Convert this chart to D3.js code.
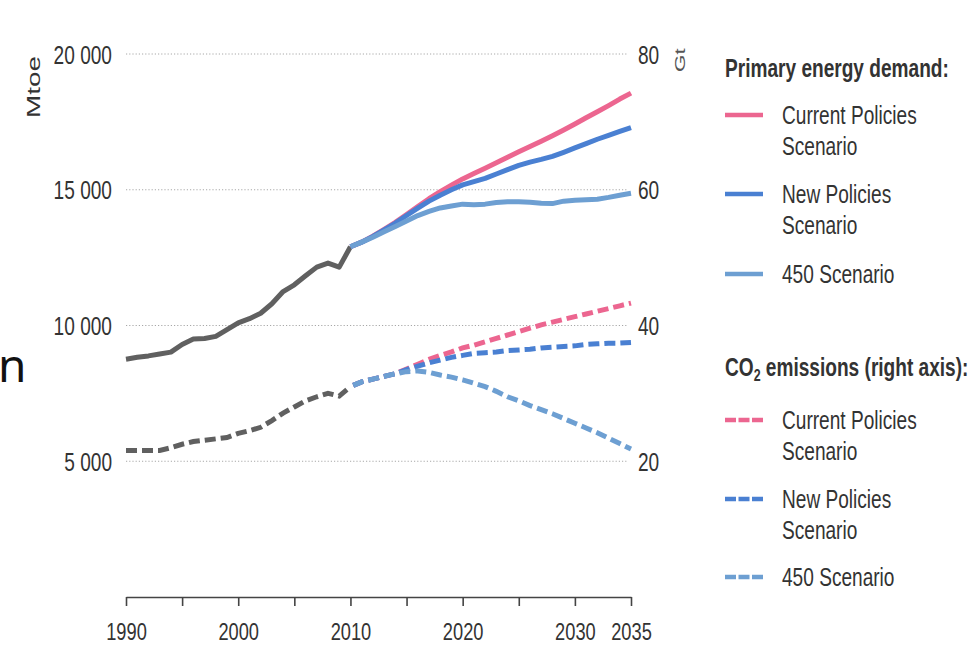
<!DOCTYPE html>
<html><head><meta charset="utf-8">
<script src="https://cdn.jsdelivr.net/npm/d3@7"></script>
<style>
html,body{margin:0;padding:0;background:#fff;}
svg{display:block;}
text{font-family:"Liberation Sans",Arial,sans-serif;fill:#333;}
</style></head><body>
<svg id="chart" width="968" height="645"></svg>
<script>
// ---------- data ----------
const histYears  = [1990,1991,1992,1993,1994,1995,1996,1997,1998,1999,2000,2001,2002,2003,2004,2005,2006,2007,2008,2009,2010];
const histDemand = [8760,8830,8880,8950,9020,9300,9500,9520,9600,9850,10100,10250,10450,10800,11250,11500,11830,12150,12300,12150,12900];
const histCO2    = [21.6,21.6,21.6,21.6,22.0,22.5,22.9,23.1,23.3,23.5,24.1,24.5,25.0,26.0,27.1,28.0,28.9,29.5,30.0,29.6,31.0];

const projYears  = [2010,2011,2012,2013,2014,2015,2016,2017,2018,2019,2020,2021,2022,2023,2024,2025,2026,2027,2028,2029,2030,2031,2032,2033,2034,2035];
const demandCPS  = [12900,13070,13290,13540,13800,14090,14380,14670,14930,15170,15400,15600,15790,15990,16200,16400,16590,16790,16990,17200,17420,17650,17870,18100,18340,18560];
const demandNPS  = [12900,13070,13280,13520,13770,14050,14320,14580,14800,15000,15180,15300,15420,15580,15740,15900,16020,16120,16230,16380,16540,16700,16860,17000,17150,17290];
const demand450  = [12900,13070,13250,13450,13650,13850,14050,14200,14330,14400,14470,14450,14470,14530,14560,14560,14540,14500,14490,14580,14610,14630,14650,14720,14800,14870];
const co2CPS     = [31.0,31.7,32.1,32.5,32.9,33.6,34.3,35.0,35.6,36.1,36.7,37.1,37.6,38.1,38.6,39.1,39.6,40.1,40.5,40.9,41.3,41.7,42.1,42.5,42.9,43.3];
const co2NPS     = [31.0,31.7,32.1,32.5,32.9,33.5,34.0,34.5,34.9,35.3,35.6,35.9,36.0,36.1,36.3,36.4,36.5,36.7,36.8,36.9,37.0,37.2,37.3,37.4,37.4,37.5];
const co2450     = [31.0,31.7,32.1,32.5,32.9,33.2,33.3,33.1,32.7,32.4,32.0,31.5,31.0,30.3,29.5,28.9,28.2,27.6,27.0,26.3,25.6,24.9,24.2,23.4,22.6,21.8];

const xTickValues = [1990,1995,2000,2005,2010,2015,2020,2025,2030,2035];
const xTickLabels = [1990,2000,2010,2020,2030,2035];
const leftTicks   = [5000,10000,15000,20000];
const rightTicks  = [20,40,60,80];
const scenarioKeys   = ["CPS","NPS","450"];
const scenarioLabels = [["Current Policies","Scenario"],["New Policies","Scenario"],["450 Scenario"]];
const scenarioColors = ["#ec6690","#4a80d2","#6d9fd2"];
const histColor = "#606060";

// ---------- helpers ----------
const SX = 0.83, SY = 1.1; // narrow, tall lettering of the original scan
function squeeze(sel){
  sel.each(function(){
    const t = d3.select(this);
    const xx = +t.attr("x") || 0, yy = +t.attr("y") || 0;
    t.attr("x",null).attr("y",null)
     .attr("transform",`translate(${xx},${yy}) scale(${SX},${SY})`);
  });
}

// ---------- layout ----------
const svg = d3.select("#chart");
const x  = d3.scaleLinear().domain([1990,2035]).range([126,631]);
const yE = d3.scaleLinear().domain([0,20000]).range([597,54]);
const yC = d3.scaleLinear().domain([0,80]).range([597,54]);
const fmt = d3.formatLocale({decimal:".",thousands:" ",grouping:[3],currency:["",""]}).format(",");

// gridlines
svg.append("g").selectAll("line").data(leftTicks).join("line")
  .attr("x1",126).attr("x2",627)
  .attr("y1",d=>yE(d)).attr("y2",d=>yE(d))
  .attr("stroke","#a8a8a8").attr("stroke-width",1).attr("stroke-dasharray","1.2,2");

// left axis
const gL = svg.append("g").attr("transform","translate(126,0)")
  .call(d3.axisLeft(yE).tickValues(leftTicks).tickSize(0).tickPadding(14).tickFormat(fmt));
gL.select(".domain").remove();
gL.selectAll("text").attr("font-family",null).attr("font-size",null)
  .style("font-size","23px").style("fill","#333").attr("dy","0.36em");
squeeze(gL.selectAll("text"));

// right axis
const gR = svg.append("g").attr("transform","translate(627,0)")
  .call(d3.axisRight(yC).tickValues(rightTicks).tickSize(0).tickPadding(11));
gR.select(".domain").remove();
gR.selectAll("text").attr("font-family",null)
  .style("font-size","23px").style("fill","#333").attr("dy","0.36em");
squeeze(gR.selectAll("text"));

// bottom axis
const gB = svg.append("g").attr("transform",`translate(0,${yE(0)})`)
  .call(d3.axisBottom(x).tickValues(xTickValues).tickSize(9).tickSizeOuter(0)
    .tickFormat(d=>xTickLabels.includes(d)?String(d):""));
gB.select(".domain").attr("stroke","#444").attr("stroke-width",1.6);
gB.selectAll(".tick line").attr("stroke","#444").attr("stroke-width",1.6);
gB.selectAll("text").attr("font-family",null).attr("y",43).attr("dy",0)
  .style("font-size","22px").style("fill","#333");
squeeze(gB.selectAll("text"));

// axis titles (rotated, stretched along the text like the scan)
svg.append("text").attr("transform","translate(40,118) rotate(-90) scale(1.55,1)")
  .attr("text-anchor","start").style("font-size","18px").style("fill","#333").text("Mtoe");
svg.append("text").attr("transform","translate(685,72) rotate(-90) scale(1.6,1)")
  .attr("text-anchor","start").style("font-size","14px").style("fill","#555").text("Gt");

// stray slide text fragment at the left edge
svg.append("text").attr("x",-2).attr("y",382).style("font-family","'Noto Sans','Open Sans',sans-serif")
  .style("font-size","46px").style("fill","#111").text("n");

// ---------- lines ----------
const lineE = d3.line().x(d=>x(d[0])).y(d=>yE(d[1]));
const lineC = d3.line().x(d=>x(d[0])).y(d=>yC(d[1]));
const demandSeries = {CPS:demandCPS, NPS:demandNPS, "450":demand450};
const co2Series    = {CPS:co2CPS, NPS:co2NPS, "450":co2450};
const DASH = "11,5";

// CO2 (dashed)
svg.append("path").datum(histYears.map((y,i)=>[y,histCO2[i]]))
  .attr("d",lineC).attr("fill","none").attr("stroke",histColor).attr("stroke-width",5).attr("stroke-dasharray",DASH);
scenarioKeys.forEach((k,j)=>{
  svg.append("path").datum(projYears.map((y,i)=>[y,co2Series[k][i]]))
    .attr("d",lineC).attr("fill","none").attr("stroke",scenarioColors[j]).attr("stroke-width",5)
    .attr("stroke-dasharray",DASH).attr("stroke-dashoffset",-3);
});

// demand (solid)
svg.append("path").datum(histYears.map((y,i)=>[y,histDemand[i]]))
  .attr("d",lineE).attr("fill","none").attr("stroke",histColor).attr("stroke-width",5).attr("stroke-linejoin","round");
scenarioKeys.forEach((k,j)=>{
  svg.append("path").datum(projYears.map((y,i)=>[y,demandSeries[k][i]]))
    .attr("d",lineE).attr("fill","none").attr("stroke",scenarioColors[j]).attr("stroke-width",5).attr("stroke-linejoin","round");
});

// ---------- legend ----------
const lg = svg.append("g");
function legendBlock(swatchYs, dashed){
  scenarioKeys.forEach((k,j)=>{
    const sy = swatchYs[j];
    lg.append("line").attr("x1",725).attr("x2",763).attr("y1",sy).attr("y2",sy)
      .attr("stroke",scenarioColors[j]).attr("stroke-width",4.5)
      .attr("stroke-dasharray",dashed?"11,2.5":null);
    scenarioLabels[j].forEach((t,r)=>{
      lg.append("text").attr("x",782).attr("y",sy+8.5+r*31).style("font-size","23px").text(t);
    });
  });
}
lg.append("text").attr("x",725).attr("y",77).style("font-size","23px").style("font-weight","bold")
  .text("Primary energy demand:");
legendBlock([115,194,274],false);
const t2 = lg.append("text").attr("x",725).attr("y",376).style("font-size","23px").style("font-weight","bold");
t2.append("tspan").text("CO");
t2.append("tspan").attr("baseline-shift","-25%").style("font-size","15px").text("2");
t2.append("tspan").text(" emissions (right axis):");
legendBlock([420,499,577],true);
squeeze(lg.selectAll("text"));
</script>
</body></html>
